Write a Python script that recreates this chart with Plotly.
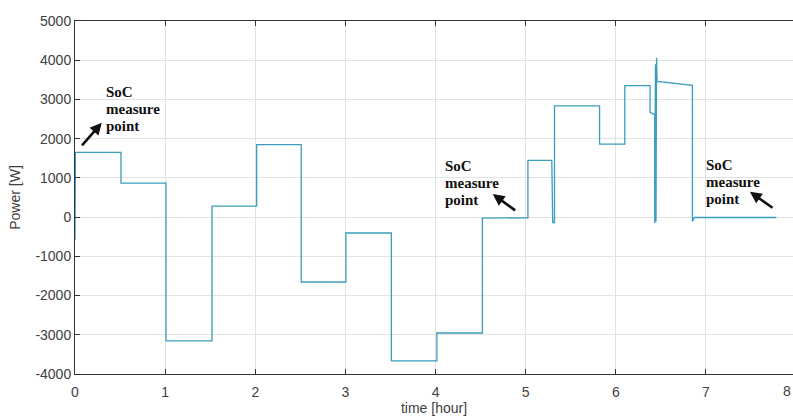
import plotly.graph_objects as go

# Power profile (time in hours, power in W)
time_h = [0.000, 0.005, 0.51, 0.51, 1.01, 1.01, 1.52, 1.52, 2.015, 2.015,
          2.51, 2.51, 3.005, 3.005, 3.51, 3.51, 4.015, 4.015, 4.52, 4.52,
          5.025, 5.025, 5.29, 5.30, 5.32, 5.32, 5.82, 5.82, 6.10, 6.10,
          6.38, 6.38, 6.432, 6.432, 6.440, 6.440, 6.446, 6.452, 6.458, 6.85,
          6.85, 6.87, 7.78]
power_w = [-580, 1650, 1650, 865, 865, -3155, -3155, 280, 280, 1850,
           1850, -1655, -1655, -405, -405, -3665, -3665, -2955, -2955, -25,
           -20, 1445, 1445, -140, -140, 2835, 2835, 1860, 1860, 3350,
           3350, 2670, 2610, -150, -150, 3900, -120, 4060, 3460, 3360,
           -110, -10, -10]

x_ticks = [0, 1, 2, 3, 4, 5, 6, 7, 8]
y_ticks = [-4000, -3000, -2000, -1000, 0, 1000, 2000, 3000, 4000, 5000]
x_range = [0, 7.966]

# SoC annotation positions: (text x, middle-line y, arrow head x, head y, tail x, tail y)
soc_lines = ["SoC", "measure", "point"]
soc_notes = [
    (0.318, 2765, 0.297, 2403, 0.063, 1791),
    (4.08, 875, 4.635, 587, 4.90, 143),
    (6.977, 900, 7.488, 645, 7.755, 212),
]

fig = go.Figure()
fig.add_trace(go.Scatter(
    x=time_h, y=power_w, mode="lines",
    line=dict(color="#3b9dbd", width=1.3),
    showlegend=False,
))

for tx, ty, hx, hy, ax_, ay_ in soc_notes:
    for i, line in enumerate(soc_lines):
        fig.add_annotation(
            x=tx, y=ty, xref="x", yref="y", text="<b>" + line + "</b>",
            showarrow=False, xanchor="left", yanchor="middle", align="left",
            yshift=(1 - i) * 17,
            font=dict(family="Liberation Serif", size=15, color="#111111"),
        )
    fig.add_annotation(
        x=hx, y=hy, ax=ax_, ay=ay_, xref="x", yref="y", axref="x", ayref="y",
        text="", showarrow=True, arrowhead=2, arrowsize=0.9, arrowwidth=2.6,
        arrowcolor="#111111",
    )

axis_font = dict(family="Liberation Sans", size=14, color="#404040")

# last tick label, which sits at the cropped right edge
fig.add_annotation(
    x=1.0, y=-4000, xref="paper", yref="y",
    text=str(x_ticks[-1]), showarrow=False, xanchor="right", yanchor="top",
    yshift=-7, font=axis_font,
)

fig.update_layout(
    width=793, height=418,
    margin=dict(l=75, r=0, t=21, b=44),
    paper_bgcolor="white", plot_bgcolor="white",
    font=axis_font,
    xaxis=dict(
        range=x_range, tickvals=x_ticks, ticktext=[str(v) for v in x_ticks],
        showgrid=True, gridcolor="#e2e2e2", gridwidth=1,
        showline=True, linecolor="#333333", linewidth=1, mirror="ticks",
        ticks="inside", ticklen=5, tickcolor="#333333",
        ticklabelstandoff=5,
        zeroline=False, tickfont=axis_font,
        title=dict(text="time [hour]", font=axis_font, standoff=3),
    ),
    yaxis=dict(
        range=[-4000, 5000], tickvals=y_ticks, ticktext=[str(v) for v in y_ticks],
        showgrid=True, gridcolor="#e2e2e2", gridwidth=1,
        showline=True, linecolor="#333333", linewidth=1, mirror=False,
        ticks="inside", ticklen=5, tickcolor="#333333",
        zeroline=False, tickfont=axis_font,
        title=dict(text="Power [W]", font=axis_font, standoff=11),
    ),
)

fig.write_html("out.html")
